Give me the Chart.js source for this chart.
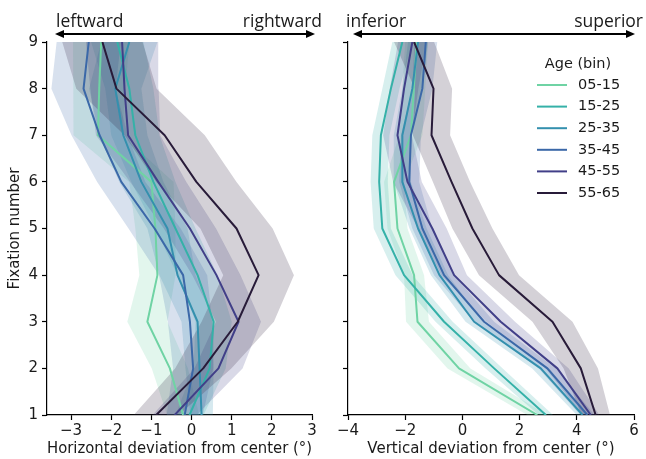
<!DOCTYPE html>
<html>

<head>
    <meta charset="utf-8" />
    <style>
        body { margin: 0; background: #fff; }
        #wrap { position: relative; width: 646px; height: 459px; }
        canvas { position: absolute; top: 0; }
    </style>
</head>

<body>
    <div id="wrap">
        <canvas id="horizChart" width="330" height="459" style="left:0px"></canvas>
        <canvas id="vertChart" width="316" height="459" style="left:330px"></canvas>
    </div>

    <script src="https://cdn.jsdelivr.net/npm/chart.js@4.4.0/dist/chart.umd.min.js"></script>

    <script>
        // fixation index (y) and age bins
        const fixations = [1, 2, 3, 4, 5, 6, 7, 8, 9];
        const ageBins = ['05-15', '15-25', '25-35', '35-45', '45-55', '55-65'];
        const horizTicks = [-3, -2, -1, 0, 1, 2, 3];
        const vertTicks = [-4, -2, 0, 2, 4, 6];

        // horizontal deviation, mean per fixation 1..9
        const horiz0515 = [-0.21, -0.54, -1.1, -0.85, -0.9, -1.0, -2.33, -2.3, -2.25];
        const horiz1525 = [-0.05, 0.45, 0.55, 0.15, -0.4, -0.95, -1.4, -1.55, -1.85];
        const horiz2535 = [0.25, 0.2, 0.15, -0.35, -0.6, -1.25, -1.7, -1.9, -1.55];
        const horiz3545 = [-0.17, 0.04, -0.04, -0.21, -0.92, -1.75, -2.29, -2.69, -2.56];
        const horiz4555 = [-0.42, 0.67, 1.17, 0.62, -0.04, -0.83, -1.58, -1.67, -1.73];
        const horiz5565 = [-0.88, 0.29, 1.15, 1.67, 1.12, 0.12, -0.67, -1.87, -2.22];

        // horizontal deviation, half width of shaded band
        const horizSpread0515 = [0.4, 0.45, 0.5, 0.45, 0.5, 0.55, 0.6, 0.65, 0.7];
        const horizSpread1525 = [0.35, 0.4, 0.45, 0.5, 0.5, 0.55, 0.6, 0.6, 0.65];
        const horizSpread2535 = [0.28, 0.35, 0.4, 0.45, 0.5, 0.55, 0.6, 0.65, 0.7];
        const horizSpread3545 = [0.45, 0.5, 0.55, 0.6, 0.65, 0.6, 0.7, 0.8, 0.8];
        const horizSpread4555 = [0.55, 0.6, 0.56, 0.6, 0.65, 0.7, 0.8, 0.85, 0.9];
        const horizSpread5565 = [0.56, 0.7, 0.9, 0.88, 0.9, 1.0, 1.0, 1.0, 1.0];

        // vertical deviation, mean per fixation 1..9
        const vert0515 = [2.62, -0.12, -1.57, -1.69, -2.27, -2.39, -1.8, -1.7, -1.6];
        const vert1525 = [2.92, 1.11, -0.64, -2.04, -2.8, -2.91, -2.85, -2.5, -2.1];
        const vert2535 = [4.2, 2.74, 0.41, -0.8, -1.55, -2.1, -2.1, -1.75, -1.55];
        const vert3545 = [4.37, 2.97, 0.76, -0.64, -1.4, -1.86, -1.8, -1.4, -1.28];
        const vert4555 = [4.49, 3.32, 1.34, -0.29, -1.05, -1.92, -2.27, -2.04, -1.75];
        const vert5565 = [4.66, 4.14, 3.15, 1.28, 0.35, -0.38, -1.08, -1.01, -1.69];

        // vertical deviation, half width of shaded band
        const vertSpread0515 = [0.35, 0.4, 0.4, 0.35, 0.35, 0.35, 0.4, 0.4, 0.4];
        const vertSpread1525 = [0.25, 0.3, 0.3, 0.3, 0.3, 0.3, 0.3, 0.3, 0.35];
        const vertSpread2535 = [0.2, 0.3, 0.3, 0.3, 0.3, 0.3, 0.3, 0.35, 0.35];
        const vertSpread3545 = [0.25, 0.3, 0.35, 0.35, 0.35, 0.35, 0.35, 0.35, 0.4];
        const vertSpread4555 = [0.3, 0.4, 0.5, 0.45, 0.5, 0.5, 0.5, 0.5, 0.5];
        const vertSpread5565 = [0.5, 0.6, 0.7, 0.7, 0.7, 0.65, 0.65, 0.65, 0.7];

        const binColors = ['#6fd3a4', '#35b1a8', '#3490ae', '#3b68a8', '#413f88', '#281b39'];

        const horizMeans = [horiz0515, horiz1525, horiz2535, horiz3545, horiz4555, horiz5565];
        const horizSpreads = [horizSpread0515, horizSpread1525, horizSpread2535, horizSpread3545, horizSpread4555, horizSpread5565];
        const vertMeans = [vert0515, vert1525, vert2535, vert3545, vert4555, vert5565];
        const vertSpreads = [vertSpread0515, vertSpread1525, vertSpread2535, vertSpread3545, vertSpread4555, vertSpread5565];

        const tickFont = { family: 'DejaVu Sans', size: 15 };
        const textColor = '#1a1a1a';

        function rgba(hex, a) {
            const n = parseInt(hex.slice(1), 16);
            return 'rgba(' + (n >> 16) + ',' + ((n >> 8) & 255) + ',' + (n & 255) + ',' + a + ')';
        }

        function fmtTick(v) {
            return v < 0 ? '\u2212' + Math.abs(v) : String(v);
        }

        function buildDatasets(means, spreads) {
            let sets = [];
            // bands: upper edge fills down to the lower edge (next dataset)
            ageBins.forEach(function (bin, i) {
                sets.push({
                    label: bin + ' upper',
                    data: fixations.map((f, k) => ({ x: means[i][k] + spreads[i][k], y: f })),
                    borderWidth: 0, borderColor: 'rgba(0,0,0,0)', pointRadius: 0,
                    backgroundColor: rgba(binColors[i], 0.2), fill: '+1', order: 10 - i
                });
                sets.push({
                    label: bin + ' lower',
                    data: fixations.map((f, k) => ({ x: means[i][k] - spreads[i][k], y: f })),
                    borderWidth: 0, borderColor: 'rgba(0,0,0,0)', pointRadius: 0,
                    fill: false, order: 10 - i
                });
            });
            ageBins.forEach(function (bin, i) {
                sets.push({
                    label: bin,
                    data: fixations.map((f, k) => ({ x: means[i][k], y: f })),
                    borderColor: binColors[i], borderWidth: 2, pointRadius: 0,
                    fill: false, order: -i
                });
            });
            return sets;
        }

        // arrow with direction words above each panel
        const dirArrow = {
            id: 'dirArrow',
            afterDraw(chart, args, opts) {
                const ctx = chart.ctx;
                const area = chart.chartArea;
                const x0 = area.left + opts.from, x1 = area.right + opts.to, y = 34;
                ctx.save();
                ctx.strokeStyle = '#000';
                ctx.fillStyle = '#000';
                ctx.lineWidth = 2;
                ctx.beginPath();
                ctx.moveTo(x0 + 6, y);
                ctx.lineTo(x1 - 6, y);
                ctx.stroke();
                ctx.beginPath();
                ctx.moveTo(x0, y); ctx.lineTo(x0 + 9, y - 4); ctx.lineTo(x0 + 9, y + 4); ctx.closePath();
                ctx.moveTo(x1, y); ctx.lineTo(x1 - 9, y - 4); ctx.lineTo(x1 - 9, y + 4); ctx.closePath();
                ctx.fill();
                ctx.font = '17.5px "Open Sans"';
                ctx.fillStyle = textColor;
                ctx.textBaseline = 'alphabetic';
                ctx.textAlign = 'left';
                ctx.fillText(opts.leftText, area.left + opts.leftTextAt, 27);
                ctx.textAlign = 'right';
                ctx.fillText(opts.rightText, area.right + opts.rightTextAt, 27);
                ctx.restore();
            }
        };

        // legend drawn inside the right panel
        const ageLegend = {
            id: 'ageLegend',
            afterDraw(chart, args, opts) {
                if (!opts.show) return;
                const ctx = chart.ctx;
                const area = chart.chartArea;
                ctx.save();
                ctx.font = '14.5px "DejaVu Sans"';
                ctx.fillStyle = textColor;
                ctx.textBaseline = 'middle';
                ctx.textAlign = 'center';
                ctx.fillText('Age (bin)', area.right - 56, area.top + 22);
                ctx.textAlign = 'left';
                ageBins.forEach(function (bin, i) {
                    const yy = area.top + 43 + i * 21.6;
                    ctx.strokeStyle = binColors[i];
                    ctx.lineWidth = 2;
                    ctx.beginPath();
                    ctx.moveTo(area.right - 97, yy);
                    ctx.lineTo(area.right - 67, yy);
                    ctx.stroke();
                    ctx.fillText(bin, area.right - 56, yy);
                });
                ctx.restore();
            }
        };

        function makeChart(canvasId, means, spreads, xMin, xMax, xTicks, xTitle, isLeft, arrowOpts, padRight, yWidth) {
            return new Chart(document.getElementById(canvasId), {
                type: 'line',
                data: { datasets: buildDatasets(means, spreads) },
                plugins: [dirArrow, ageLegend],
                options: {
                    indexAxis: 'y',
                    responsive: false,
                    animation: false,
                    devicePixelRatio: 1,
                    events: [],
                    layout: { padding: { top: 42, right: padRight, left: 0, bottom: 0 } },
                    elements: { line: { tension: 0, borderJoinStyle: 'round' } },
                    scales: {
                        x: {
                            type: 'linear', min: xMin, max: xMax,
                            afterBuildTicks: s => { s.ticks = xTicks.map(v => ({ value: v })); },
                            afterFit: s => { s.height = 44; },
                            border: { display: true, color: '#000', width: 1.2 },
                            grid: { drawOnChartArea: false, drawTicks: true, tickLength: 5, color: '#000', tickWidth: 1.2 },
                            ticks: { padding: 2, color: textColor, font: tickFont, maxRotation: 0, autoSkip: false, callback: fmtTick },
                            title: { display: true, text: xTitle, color: textColor, font: tickFont, padding: { top: 0, bottom: 1 } }
                        },
                        y: {
                            type: 'linear', min: 1, max: 9,
                            afterBuildTicks: s => { s.ticks = fixations.map(v => ({ value: v })); },
                            afterFit: s => { s.width = yWidth; },
                            border: { display: true, color: '#000', width: 1.2 },
                            grid: { drawOnChartArea: false, drawTicks: true, tickLength: 5, color: '#000', tickWidth: 1.2 },
                            ticks: { display: isLeft, padding: 4, color: textColor, font: tickFont },
                            title: { display: isLeft, text: 'Fixation number', color: textColor, font: tickFont, padding: { top: 6, bottom: 0 } }
                        }
                    },
                    plugins: {
                        legend: { display: false },
                        tooltip: { enabled: false },
                        dirArrow: arrowOpts,
                        ageLegend: { show: !isLeft }
                    }
                }
            });
        }

        let horizChart = makeChart('horizChart', horizMeans, horizSpreads, -3.6, 3, horizTicks,
            'Horizontal deviation from center (\u00b0)', true,
            { from: 8, to: 3, leftText: 'leftward', rightText: 'rightward', leftTextAt: 9, rightTextAt: 10 }, 18, 47);

        let vertChart = makeChart('vertChart', vertMeans, vertSpreads, -4, 6, vertTicks,
            'Vertical deviation from center (\u00b0)', false,
            { from: 5, to: 1, leftText: 'inferior', rightText: 'superior', leftTextAt: -2, rightTextAt: 9 }, 12, 18);
    </script>
</body>

</html>
